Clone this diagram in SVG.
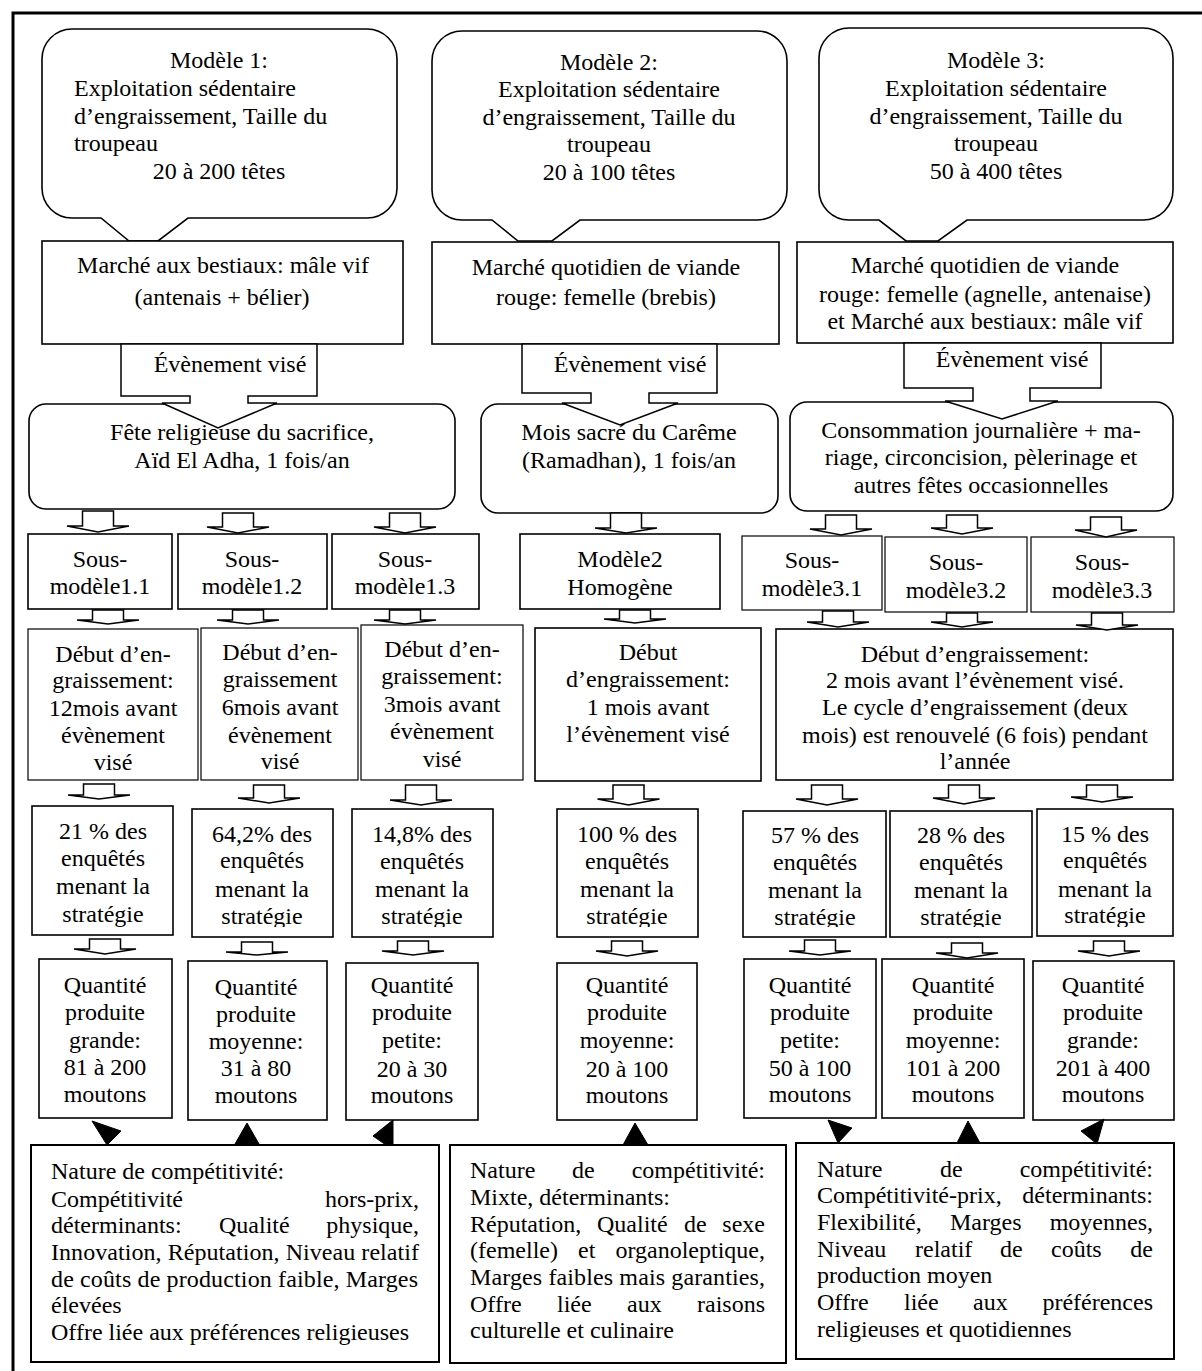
<svg xmlns="http://www.w3.org/2000/svg" width="1202" height="1371" viewBox="0 0 1202 1371">
<style>
.box{fill:#fff;stroke:#000;stroke-width:1.6}
.frame{fill:none;stroke:#000;stroke-width:3}
.t{font-family:"Liberation Serif","Times New Roman",serif;font-size:24px;fill:#000}
.c{text-anchor:middle}
.e{text-anchor:end}
.arr{fill:#fff;stroke:#000;stroke-width:1.5;stroke-linejoin:miter}
.tri{fill:#000;stroke:#000;stroke-width:1}
</style>
<defs>
<clipPath id="clipP" clipPathUnits="userSpaceOnUse"><rect x="0" y="800" width="1202" height="127"/></clipPath>
</defs>
<rect width="1202" height="1371" fill="#fff"/>
<rect class="frame" x="13" y="13" width="1200" height="1370"/>

<!-- Callouts -->
<g id="modele1">
<path class="box" d="M72,29 H367 A30,30 0 0 1 397,59 V188 A30,30 0 0 1 367,218 H188 L158,241 H129 L101,218 H72 A30,30 0 0 1 42,188 V59 A30,30 0 0 1 72,29 Z"/>
<text class="t c"><tspan x="219" y="68">Modèle 1:</tspan><tspan x="219" y="179">20 à 200 têtes</tspan></text>
<text class="t"><tspan x="74" y="96">Exploitation sédentaire</tspan><tspan x="74" y="124">d’engraissement, Taille du</tspan><tspan x="74" y="151">troupeau</tspan></text>
</g>
<g id="modele2">
<path class="box" d="M462,31 H757 A30,30 0 0 1 787,61 V190 A30,30 0 0 1 757,220 H580 L552,241 H518 L492,220 H462 A30,30 0 0 1 432,190 V61 A30,30 0 0 1 462,31 Z"/>
<text class="t c"><tspan x="609" y="70">Modèle 2:</tspan><tspan x="609" y="97">Exploitation sédentaire</tspan><tspan x="609" y="125">d’engraissement, Taille du</tspan><tspan x="609" y="152">troupeau</tspan><tspan x="609" y="180">20 à 100 têtes</tspan></text>
</g>
<g id="modele3">
<path class="box" d="M849,28 H1143 A30,30 0 0 1 1173,58 V190 A30,30 0 0 1 1143,220 H967 L938,241 H906 L879,220 H849 A30,30 0 0 1 819,190 V58 A30,30 0 0 1 849,28 Z"/>
<text class="t c"><tspan x="996" y="68">Modèle 3:</tspan><tspan x="996" y="96">Exploitation sédentaire</tspan><tspan x="996" y="124">d’engraissement, Taille du</tspan><tspan x="996" y="151">troupeau</tspan><tspan x="996" y="179">50 à 400 têtes</tspan></text>
</g>

<!-- Markets -->
<g id="marche1">
<rect class="box" x="42" y="241" width="361" height="103"/>
<text class="t c"><tspan x="223" y="273">Marché aux bestiaux: mâle vif</tspan><tspan x="222" y="305">(antenais + bélier)</tspan></text>
</g>
<g id="marche2">
<rect class="box" x="432" y="242" width="347" height="102"/>
<text class="t c"><tspan x="606" y="275">Marché quotidien de viande</tspan><tspan x="606" y="305">rouge: femelle (brebis)</tspan></text>
</g>
<g id="marche3">
<rect class="box" x="797" y="242" width="376" height="101"/>
<text class="t c"><tspan x="985" y="273">Marché quotidien de viande</tspan><tspan x="985" y="302">rouge: femelle (agnelle, antenaise)</tspan><tspan x="985" y="329">et Marché aux bestiaux: mâle vif</tspan></text>
</g>

<!-- Events -->
<g id="evenement1">
<rect class="box" x="29" y="404" width="426" height="105" rx="17"/>
</g>
<g id="evenement2">
<rect class="box" x="481" y="404" width="297" height="109" rx="17"/>
</g>
<g id="evenement3">
<rect class="box" x="790" y="402" width="383" height="109" rx="17"/>
</g>

<!-- Évènement visé callout arrows -->
<g id="vise1">
<path class="arr" d="M121,344 H317 V396 H248 V403 H277 L218,428 L162,403 H190 V396 H121 Z"/>
<text class="t c" x="230" y="372">Évènement visé</text>
</g>
<g id="vise2">
<path class="arr" d="M522,344 H717 V393 H649 V403 H678 L620,425 L562,403 H591 V393 H522 Z"/>
<text class="t c" x="630" y="372">Évènement visé</text>
</g>
<g id="vise3">
<path class="arr" d="M904,343 H1101 V388 H1030 V401 H1058 L1002,419 L945,401 H973 V388 H904 Z"/>
<text class="t c" x="1012" y="367">Évènement visé</text>
</g>

<g id="evenement-text">
<text class="t c"><tspan x="242" y="440">Fête religieuse du sacrifice,</tspan><tspan x="242" y="468">Aïd El Adha, 1 fois/an</tspan></text>
<text class="t c"><tspan x="629" y="440">Mois sacré du Carême</tspan><tspan x="629" y="468">(Ramadhan), 1 fois/an</tspan></text>
<text class="t c"><tspan x="981" y="438">Consommation journalière + ma-</tspan><tspan x="981" y="465">riage, circoncision, pèlerinage et</tspan><tspan x="981" y="493">autres fêtes occasionnelles</tspan></text>
</g>

<!-- Sub-models -->
<g id="sm11"><rect class="box" x="28" y="534" width="144" height="75"/><text class="t c"><tspan x="100" y="567">Sous-</tspan><tspan x="100" y="594">modèle1.1</tspan></text></g>
<g id="sm12"><rect class="box" x="178" y="534" width="149" height="75"/><text class="t c"><tspan x="252" y="567">Sous-</tspan><tspan x="252" y="594">modèle1.2</tspan></text></g>
<g id="sm13"><rect class="box" x="332" y="534" width="147" height="75"/><text class="t c"><tspan x="405" y="567">Sous-</tspan><tspan x="405" y="594">modèle1.3</tspan></text></g>
<g id="m2h"><rect class="box" x="520" y="534" width="200" height="75"/><text class="t c"><tspan x="620" y="567">Modèle2</tspan><tspan x="620" y="595">Homogène</tspan></text></g>
<g id="sm31"><rect class="box" x="742" y="536" width="140" height="74" style="stroke-width:1.2"/><text class="t c"><tspan x="812" y="568">Sous-</tspan><tspan x="812" y="596">modèle3.1</tspan></text></g>
<g id="sm32"><rect class="box" x="885" y="537" width="142" height="75" style="stroke-width:1.2"/><text class="t c"><tspan x="956" y="570">Sous-</tspan><tspan x="956" y="598">modèle3.2</tspan></text></g>
<g id="sm33"><rect class="box" x="1031" y="537" width="143" height="75" style="stroke-width:1.2"/><text class="t c"><tspan x="1102" y="570">Sous-</tspan><tspan x="1102" y="598">modèle3.3</tspan></text></g>

<!-- Début -->
<g id="debut1"><rect class="box" x="28" y="629" width="170" height="151" style="stroke-width:1.2"/><text class="t c"><tspan x="113" y="662">Début d’en-</tspan><tspan x="113" y="688">graissement:</tspan><tspan x="113" y="716">12mois avant</tspan><tspan x="113" y="743">évènement</tspan><tspan x="113" y="770">visé</tspan></text></g>
<g id="debut2"><rect class="box" x="201" y="628" width="157" height="152" style="stroke-width:1.2"/><text class="t c"><tspan x="280" y="660">Début d’en-</tspan><tspan x="280" y="687">graissement</tspan><tspan x="280" y="715">6mois avant</tspan><tspan x="280" y="743">évènement</tspan><tspan x="280" y="769">visé</tspan></text></g>
<g id="debut3"><rect class="box" x="361" y="625" width="162" height="155" style="stroke-width:1.2"/><text class="t c"><tspan x="442" y="657">Début d’en-</tspan><tspan x="442" y="684">graissement:</tspan><tspan x="442" y="712">3mois avant</tspan><tspan x="442" y="739">évènement</tspan><tspan x="442" y="767">visé</tspan></text></g>
<g id="debut4"><rect class="box" x="535" y="628" width="226" height="153"/><text class="t c"><tspan x="648" y="660">Début</tspan><tspan x="648" y="687">d’engraissement:</tspan><tspan x="648" y="715">1 mois avant</tspan><tspan x="648" y="742">l’évènement visé</tspan></text></g>
<g id="debut5"><rect class="box" x="776" y="629" width="397" height="151"/><text class="t c"><tspan x="975" y="662">Début d’engraissement:</tspan><tspan x="975" y="688">2 mois avant l’évènement visé.</tspan><tspan x="975" y="715">Le cycle d’engraissement (deux</tspan><tspan x="975" y="743">mois) est renouvelé (6 fois) pendant</tspan><tspan x="975" y="769">l’année</tspan></text></g>

<!-- Percentages -->
<g id="pct11"><rect class="box" x="32" y="806" width="141" height="129"/><text class="t c" clip-path="url(#clipP)"><tspan x="103" y="839">21 % des</tspan><tspan x="103" y="866">enquêtés</tspan><tspan x="103" y="894">menant la</tspan><tspan x="103" y="922">stratégie</tspan></text></g>
<g id="pct12"><rect class="box" x="192" y="809" width="141" height="128"/><text class="t c" clip-path="url(#clipP)"><tspan x="262" y="842">64,2% des</tspan><tspan x="262" y="868">enquêtés</tspan><tspan x="262" y="897">menant la</tspan><tspan x="262" y="924">stratégie</tspan></text></g>
<g id="pct13"><rect class="box" x="352" y="809" width="141" height="128"/><text class="t c" clip-path="url(#clipP)"><tspan x="422" y="842">14,8% des</tspan><tspan x="422" y="869">enquêtés</tspan><tspan x="422" y="897">menant la</tspan><tspan x="422" y="924">stratégie</tspan></text></g>
<g id="pct2"><rect class="box" x="557" y="809" width="141" height="128"/><text class="t c" clip-path="url(#clipP)"><tspan x="627" y="842">100 % des</tspan><tspan x="627" y="869">enquêtés</tspan><tspan x="627" y="897">menant la</tspan><tspan x="627" y="924">stratégie</tspan></text></g>
<g id="pct31"><rect class="box" x="743" y="811" width="143" height="126"/><text class="t c" clip-path="url(#clipP)"><tspan x="815" y="843">57 % des</tspan><tspan x="815" y="870">enquêtés</tspan><tspan x="815" y="898">menant la</tspan><tspan x="815" y="925">stratégie</tspan></text></g>
<g id="pct32"><rect class="box" x="890" y="811" width="142" height="126"/><text class="t c" clip-path="url(#clipP)"><tspan x="961" y="843">28 % des</tspan><tspan x="961" y="870">enquêtés</tspan><tspan x="961" y="898">menant la</tspan><tspan x="961" y="925">stratégie</tspan></text></g>
<g id="pct33"><rect class="box" x="1037" y="809" width="136" height="127"/><text class="t c" clip-path="url(#clipP)"><tspan x="1105" y="842">15 % des</tspan><tspan x="1105" y="868">enquêtés</tspan><tspan x="1105" y="897">menant la</tspan><tspan x="1105" y="923">stratégie</tspan></text></g>

<!-- Quantities -->
<g id="qty11"><rect class="box" x="39" y="959" width="133" height="159"/><text class="t c"><tspan x="105" y="993">Quantité</tspan><tspan x="105" y="1020">produite</tspan><tspan x="105" y="1048">grande:</tspan><tspan x="105" y="1075">81 à 200</tspan><tspan x="105" y="1102">moutons</tspan></text></g>
<g id="qty12"><rect class="box" x="188" y="961" width="139" height="159"/><text class="t c"><tspan x="256" y="995">Quantité</tspan><tspan x="256" y="1022">produite</tspan><tspan x="256" y="1049">moyenne:</tspan><tspan x="256" y="1076">31 à 80</tspan><tspan x="256" y="1103">moutons</tspan></text></g>
<g id="qty13"><rect class="box" x="346" y="963" width="132" height="157"/><text class="t c"><tspan x="412" y="993">Quantité</tspan><tspan x="412" y="1020">produite</tspan><tspan x="412" y="1048">petite:</tspan><tspan x="412" y="1077">20 à 30</tspan><tspan x="412" y="1103">moutons</tspan></text></g>
<g id="qty2"><rect class="box" x="557" y="963" width="140" height="157"/><text class="t c"><tspan x="627" y="993">Quantité</tspan><tspan x="627" y="1020">produite</tspan><tspan x="627" y="1048">moyenne:</tspan><tspan x="627" y="1077">20 à 100</tspan><tspan x="627" y="1103">moutons</tspan></text></g>
<g id="qty31"><rect class="box" x="744" y="959" width="132" height="159"/><text class="t c"><tspan x="810" y="993">Quantité</tspan><tspan x="810" y="1020">produite</tspan><tspan x="810" y="1048">petite:</tspan><tspan x="810" y="1076">50 à 100</tspan><tspan x="810" y="1102">moutons</tspan></text></g>
<g id="qty32"><rect class="box" x="882" y="959" width="142" height="159"/><text class="t c"><tspan x="953" y="993">Quantité</tspan><tspan x="953" y="1020">produite</tspan><tspan x="953" y="1048">moyenne:</tspan><tspan x="953" y="1076">101 à 200</tspan><tspan x="953" y="1102">moutons</tspan></text></g>
<g id="qty33"><rect class="box" x="1033" y="961" width="141" height="159"/><text class="t c"><tspan x="1103" y="993">Quantité</tspan><tspan x="1103" y="1020">produite</tspan><tspan x="1103" y="1048">grande:</tspan><tspan x="1103" y="1076">201 à 400</tspan><tspan x="1103" y="1102">moutons</tspan></text></g>

<!-- Competitiveness -->
<g id="nature1">
<rect class="box" x="31" y="1145" width="408" height="217" style="stroke-width:2"/>
<text class="t" x="51" y="1179">Nature de compétitivité:</text>
<text class="t" y="1207"><tspan x="51">Compétitivité</tspan> <tspan x="419" class="e">hors-prix,</tspan></text>
<text class="t" y="1233"><tspan x="51">déterminants:</tspan> <tspan x="219">Qualité</tspan> <tspan x="419" class="e">physique,</tspan></text>
<text class="t" x="51" y="1260" textLength="368" lengthAdjust="spacing">Innovation, Réputation, Niveau relatif</text>
<text class="t" x="51" y="1287" textLength="367" lengthAdjust="spacing">de coûts de production faible, Marges</text>
<text class="t" x="51" y="1313">élevées</text>
<text class="t" x="51" y="1340">Offre liée aux préférences religieuses</text>
</g>
<g id="nature2">
<rect class="box" x="450" y="1145" width="336" height="218" style="stroke-width:2"/>
<text class="t" y="1178"><tspan x="470">Nature</tspan> <tspan x="572">de</tspan> <tspan x="765" class="e">compétitivité:</tspan></text>
<text class="t" x="470" y="1205">Mixte, déterminants:</text>
<text class="t" y="1232"><tspan x="470">Réputation,</tspan> <tspan x="597">Qualité</tspan> <tspan x="684">de</tspan> <tspan x="765" class="e">sexe</tspan></text>
<text class="t" y="1258"><tspan x="470">(femelle)</tspan> <tspan x="578">et</tspan> <tspan x="765" class="e">organoleptique,</tspan></text>
<text class="t" x="470" y="1285" textLength="295" lengthAdjust="spacing">Marges faibles mais garanties,</text>
<text class="t" y="1312"><tspan x="470">Offre</tspan> <tspan x="557">liée</tspan> <tspan x="627">aux</tspan> <tspan x="765" class="e">raisons</tspan></text>
<text class="t" x="470" y="1338">culturelle et culinaire</text>
</g>
<g id="nature3">
<rect class="box" x="796" y="1143" width="378" height="216" style="stroke-width:2"/>
<text class="t" y="1177"><tspan x="817">Nature</tspan> <tspan x="940">de</tspan> <tspan x="1153" class="e">compétitivité:</tspan></text>
<text class="t" y="1203"><tspan x="817">Compétitivité-prix,</tspan> <tspan x="1153" class="e">déterminants:</tspan></text>
<text class="t" y="1230"><tspan x="817">Flexibilité,</tspan> <tspan x="950">Marges</tspan> <tspan x="1153" class="e">moyennes,</tspan></text>
<text class="t" y="1257"><tspan x="817">Niveau</tspan> <tspan x="915">relatif</tspan> <tspan x="1000">de</tspan> <tspan x="1051">coûts</tspan> <tspan x="1153" class="e">de</tspan></text>
<text class="t" x="817" y="1283">production moyen</text>
<text class="t" y="1310"><tspan x="817">Offre</tspan> <tspan x="904">liée</tspan> <tspan x="973">aux</tspan> <tspan x="1153" class="e">préférences</tspan></text>
<text class="t" x="817" y="1337">religieuses et quotidiennes</text>
</g>

<!-- Connectors -->
<g id="connectors">
<path class="arr" d="M82.5,511 H113.5 V526 H129 L98,532 L67,526 H82.5 Z"/>
<path class="arr" d="M222.5,513 H253.5 V527 H269 L238,533 L207,527 H222.5 Z"/>
<path class="arr" d="M389.5,513 H420.5 V527 H436 L405,533 L374,527 H389.5 Z"/>
<path class="arr" d="M610.5,513 H641.5 V528 H657 L626,533 L595,528 H610.5 Z"/>
<path class="arr" d="M825.5,515 H856.5 V529 H872 L841,535 L810,529 H825.5 Z"/>
<path class="arr" d="M946.5,515 H977.5 V528 H993 L962,534 L931,528 H946.5 Z"/>
<path class="arr" d="M1090.5,517 H1121.5 V530 H1137 L1106,537 L1075,530 H1090.5 Z"/>
<path class="arr" d="M92.5,610 H123.5 V620 H139 L108,624 L77,620 H92.5 Z"/>
<path class="arr" d="M232.5,610 H263.5 V620 H279 L248,624 L217,620 H232.5 Z"/>
<path class="arr" d="M389.5,610 H420.5 V620 H436 L405,624 L374,620 H389.5 Z"/>
<path class="arr" d="M619.5,610 H650.5 V619 H666 L635,623 L604,619 H619.5 Z"/>
<path class="arr" d="M822.5,611 H853.5 V622 H869 L838,627 L807,622 H822.5 Z"/>
<path class="arr" d="M946.5,613 H977.5 V622 H993 L962,627 L931,622 H946.5 Z"/>
<path class="arr" d="M1091.5,613 H1122.5 V625 H1138 L1107,630 L1076,625 H1091.5 Z"/>
<path class="arr" d="M83.5,784 H114.5 V795 H130 L99,799 L68,795 H83.5 Z"/>
<path class="arr" d="M253.5,785 H284.5 V798 H300 L269,803 L238,798 H253.5 Z"/>
<path class="arr" d="M405.5,785 H436.5 V800 H452 L421,805 L390,800 H405.5 Z"/>
<path class="arr" d="M613,785 H644 V799 H659.5 L628.5,805 L597.5,799 H613 Z"/>
<path class="arr" d="M811.5,785 H842.5 V799 H858 L827,805 L796,799 H811.5 Z"/>
<path class="arr" d="M948.5,785 H979.5 V798 H995 L964,804 L933,798 H948.5 Z"/>
<path class="arr" d="M1086.5,785 H1117.5 V797 H1133 L1102,802 L1071,797 H1086.5 Z"/>
<path class="arr" d="M89.5,939 H120.5 V949 H136 L105,954 L74,949 H89.5 Z"/>
<path class="arr" d="M241.5,942 H272.5 V952 H288 L257,955 L226,952 H241.5 Z"/>
<path class="arr" d="M397.5,941 H428.5 V951 H444 L413,955 L382,951 H397.5 Z"/>
<path class="arr" d="M611.5,941 H642.5 V951 H658 L627,956 L596,951 H611.5 Z"/>
<path class="arr" d="M804.5,940 H835.5 V951 H851 L820,955 L789,951 H804.5 Z"/>
<path class="arr" d="M951.5,943 H982.5 V953 H998 L967,958 L936,953 H951.5 Z"/>
<path class="arr" d="M1093.5,941 H1124.5 V951 H1140 L1109,956 L1078,951 H1093.5 Z"/>
<polygon class="tri" points="92,1121 121,1131 107,1145"/>
<polygon class="tri" points="247,1123 235,1144 259,1144"/>
<polygon class="tri" points="393,1120 373,1136 386,1145 393,1145"/>
<polygon class="tri" points="635,1123 623,1145 648,1145"/>
<polygon class="tri" points="828,1120 852,1128 838,1143"/>
<polygon class="tri" points="968,1121 957,1143 980,1143"/>
<polygon class="tri" points="1104,1119 1081,1131 1097,1144"/>
</g>
</svg>
